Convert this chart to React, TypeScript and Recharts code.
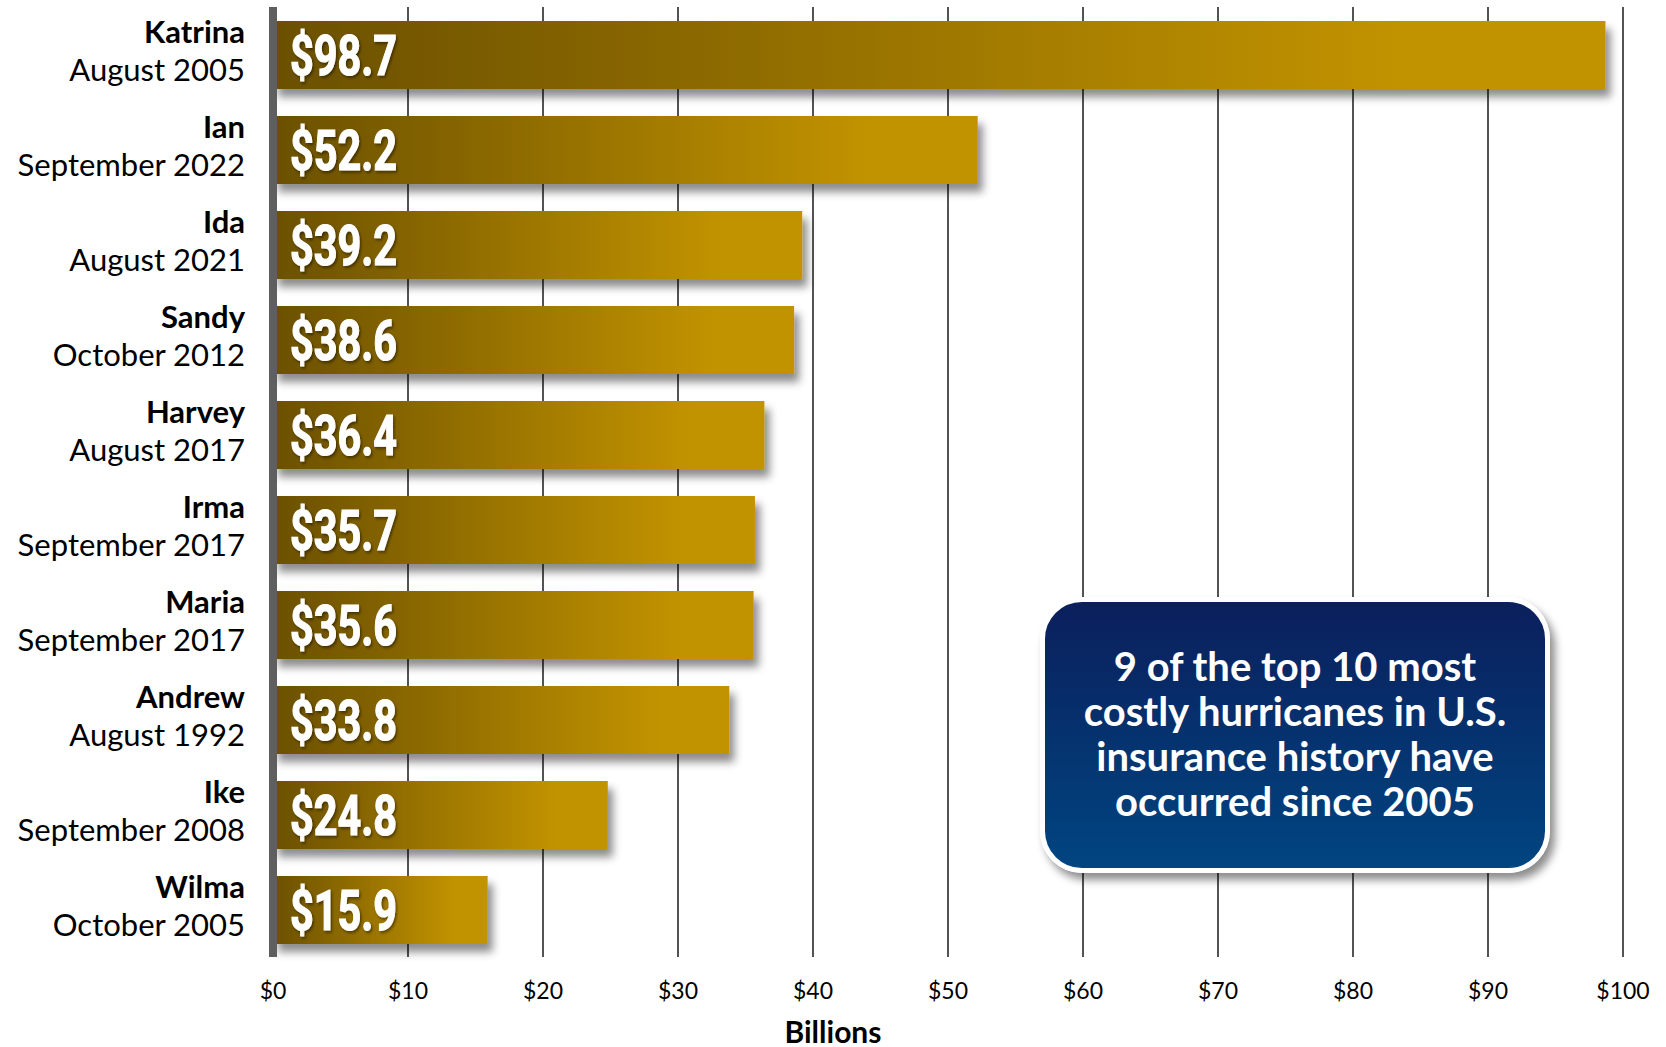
import React from "react";
import { BarChart, Bar, XAxis, YAxis, CartesianGrid, LabelList } from "recharts";

const names = ["Katrina", "Ian", "Ida", "Sandy", "Harvey", "Irma", "Maria", "Andrew", "Ike", "Wilma"];
const dates = [
  "August 2005",
  "September 2022",
  "August 2021",
  "October 2012",
  "August 2017",
  "September 2017",
  "September 2017",
  "August 1992",
  "September 2008",
  "October 2005",
];
const losses = [98.7, 52.2, 39.2, 38.6, 36.4, 35.7, 35.6, 33.8, 24.8, 15.9];
const xTicks = [0, 10, 20, 30, 40, 50, 60, 70, 80, 90, 100];

const FONT = "Lato, 'Open Sans', sans-serif";

const HurricaneTick = (props: any) => {
  const { x, y, payload } = props;
  const i = names.indexOf(payload.value);
  return (
    <g>
      <text x={x} y={y - 12} textAnchor="end" fontFamily={FONT} fontWeight={700} fontSize={31} fill="#000">
        {payload.value}
      </text>
      <text x={x} y={y + 26} textAnchor="end" fontFamily={FONT} fontSize={31} fill="#000">
        {dates[i]}
      </text>
    </g>
  );
};

const ValueLabel = (props: any) => {
  const { x, y, height, value } = props;
  return (
    <text
      x={0}
      y={0}
      transform={`translate(${x + 17},${y + height / 2 + 20}) scale(0.74,1)`}
      fontFamily="Roboto, 'Liberation Sans', sans-serif"
      fontWeight={700}
      fontSize={56}
      fill="#fff"
      stroke="#fff"
      strokeWidth={1.2}
      filter="url(#textShadow)"
    >
      {"$" + Number(value).toFixed(1)}
    </text>
  );
};

const BarShape = (props: any) => {
  const { x, y, width, height } = props;
  return <rect x={x} y={y} width={width} height={height} fill="url(#barGrad)" filter="url(#barShadow)" />;
};

export default function App() {
  const data = names.map((n, i) => ({ name: n, value: losses[i] }));

  return (
    <div style={{ position: "absolute", left: 0, top: 0, width: 1666, height: 1047, background: "#fff" }}>
      <BarChart
        width={1666}
        height={1047}
        data={data}
        layout="vertical"
        margin={{ top: 7, right: 43, bottom: 0, left: 0 }}
        barSize={68}
      >
        <defs>
          <linearGradient id="barGrad" x1="0" y1="0" x2="1" y2="0">
            <stop offset="0%" stopColor="#6B5000" />
            <stop offset="85%" stopColor="#C29300" />
            <stop offset="100%" stopColor="#C29300" />
          </linearGradient>
          <filter id="barShadow" x="-2%" y="-10%" width="110%" height="150%">
            <feDropShadow dx="5" dy="8" stdDeviation="4" floodColor="#000" floodOpacity="0.45" />
          </filter>
          <filter id="textShadow" x="-10%" y="-10%" width="130%" height="130%">
            <feDropShadow dx="2" dy="2" stdDeviation="1.5" floodColor="#000" floodOpacity="0.45" />
          </filter>
        </defs>
        <CartesianGrid horizontal={false} stroke="#1a1a1a" strokeWidth={1.5} />
        <XAxis
          type="number"
          domain={[0, 100]}
          ticks={xTicks}
          tickFormatter={(v: number) => `$${v}`}
          axisLine={false}
          tickLine={false}
          height={90}
          tickMargin={20}
          tick={{ fontFamily: FONT, fontSize: 23, fill: "#000" }}
        />
        <YAxis
          type="category"
          dataKey="name"
          width={273}
          axisLine={{ stroke: "#5f5f5f", strokeWidth: 8 }}
          tickLine={false}
          tickSize={0}
          tickMargin={28}
          tick={<HurricaneTick />}
          interval={0}
        />
        <Bar dataKey="value" isAnimationActive={false} shape={<BarShape />}>
          <LabelList dataKey="value" content={<ValueLabel />} />
        </Bar>
      </BarChart>

      <div
        style={{
          position: "absolute",
          left: 0,
          width: 1666,
          top: 1013,
          textAlign: "center",
          fontFamily: FONT,
          fontWeight: 700,
          fontSize: 30,
          color: "#000",
        }}
      >
        Billions
      </div>

      <div
        style={{
          position: "absolute",
          left: 1040,
          top: 597,
          width: 510,
          height: 276,
          boxSizing: "border-box",
          border: "5px solid #fff",
          borderRadius: 42,
          background: "linear-gradient(#0B1F5C, #004581)",
          boxShadow: "5px 7px 9px rgba(0,0,0,0.45)",
          display: "flex",
          alignItems: "center",
          justifyContent: "center",
          textAlign: "center",
          color: "#fff",
          fontFamily: FONT,
          fontWeight: 700,
          fontSize: 40,
          lineHeight: "45px",
          paddingBottom: 2,
        }}
      >
        <div>
          9 of the top 10 most
          <br />
          costly hurricanes in U.S.
          <br />
          insurance history have
          <br />
          occurred since 2005
        </div>
      </div>
    </div>
  );
}
